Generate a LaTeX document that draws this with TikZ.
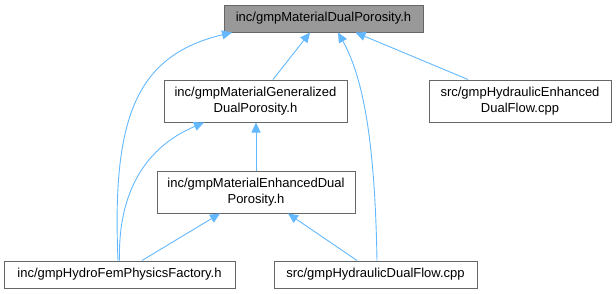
\documentclass[tikz,border=0pt]{standalone}
\usepackage{fontspec}
\setmainfont{Liberation Sans}
\usetikzlibrary{arrows.meta}
\definecolor{edgeblue}{HTML}{63B8FF}
\definecolor{boxgray}{HTML}{666666}
\definecolor{topfill}{HTML}{999999}
\begin{document}
\begin{tikzpicture}[x=1pt,y=-1pt,
  box/.style={draw=boxgray,line width=1pt,fill=white,inner sep=0pt,align=center,
    font=\fontsize{13}{16}\selectfont,text=black},
  dep/.style={draw=edgeblue,line width=0.9pt,-{Triangle[length=10pt,width=9pt]}}]
\useasboundingbox (0,0) rectangle (616,293);
\node[box,fill=topfill,minimum width=199pt,minimum height=27pt] (top) at (323.5,18.5) {inc/gmpMaterialDualPorosity.h};
\node[box,minimum width=183pt,minimum height=42pt] (gen) at (255.5,101) {inc/gmpMaterialGeneralized\\DualPorosity.h};
\node[box,minimum width=182pt,minimum height=42pt] (rhs) at (520,101) {src/gmpHydraulicEnhanced\\DualFlow.cpp};
\node[box,minimum width=198pt,minimum height=42pt] (enh) at (256,192) {inc/gmpMaterialEnhancedDual\\Porosity.h};
\node[box,minimum width=231pt,minimum height=27pt] (hf) at (119.5,274.5) {inc/gmpHydroFemPhysicsFactory.h};
\node[box,minimum width=203pt,minimum height=27pt] (df) at (375.5,274.5) {src/gmpHydraulicDualFlow.cpp};
% edges
\draw[dep] ([xshift=-1.5pt]hf.north) .. controls +(-6,-141) and +(-97,23) .. ([xshift=-91.5pt]top.south);
\draw[dep] ([xshift=17.5pt]gen.north) -- ([xshift=-13.5pt]top.south);
\draw[dep] ([xshift=1.5pt]df.north) .. controls +(-2,-111) and +(27,48) .. ([xshift=14.5pt]top.south);
\draw[dep] ([xshift=-52pt]rhs.north) -- ([xshift=32pt]top.south);
\draw[dep] (hf.north) .. controls +(-1.5,-61) and +(-64,27) .. ([xshift=-51.5pt]gen.south);
\draw[dep] (enh.north) -- (enh.north |- gen.south);
\draw[dep] ([xshift=22.5pt]hf.north) -- ([xshift=-36pt]enh.south);
\draw[dep] ([xshift=-18.5pt]df.north) -- ([xshift=32pt]enh.south);
\end{tikzpicture}
\end{document}
